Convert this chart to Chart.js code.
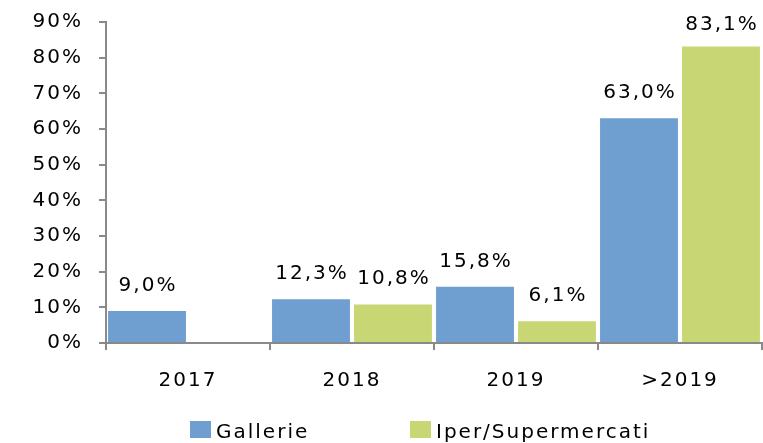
<!DOCTYPE html>
<html>
<head>
<meta charset="utf-8">
<script src="https://cdn.jsdelivr.net/npm/chart.js@4/dist/chart.umd.min.js"></script>
<style>
  html, body { margin: 0; padding: 0; background: #fff; }
  #wrap { width: 763px; height: 443px; }
</style>
</head>
<body>
<div id="wrap"><canvas id="chart"></canvas></div>
<script>
const categories = ['2017', '2018', '2019', '>2019'];
const gallerie = [9.0, 12.3, 15.8, 63.0];
const iper = [null, 10.8, 6.1, 83.1];
const yTicks = [0, 10, 20, 30, 40, 50, 60, 70, 80, 90];

const FONT = '"DejaVu Sans", sans-serif';
const SIZE = 20;
const fmt = v => v.toFixed(1).replace('.', ',') + '%';

// the original text is wide, so open the letters up a little
const spacing = {
    id: 'spacing',
    beforeUpdate(chart) { chart.ctx.letterSpacing = '2px'; },
    beforeDraw(chart) { chart.ctx.letterSpacing = '2px'; }
};

// value above each bar
const barLabels = {
    id: 'barLabels',
    afterDatasetsDraw(chart) {
        const ctx = chart.ctx;
        ctx.save();
        ctx.font = SIZE + 'px ' + FONT;
        ctx.fillStyle = '#000';
        ctx.textAlign = 'center';
        ctx.textBaseline = 'alphabetic';
        chart.data.datasets.forEach((ds, i) => {
            chart.getDatasetMeta(i).data.forEach((bar, j) => {
                const v = ds.data[j];
                if (v == null) return;
                ctx.fillText(fmt(v), bar.x + 1, Math.max(bar.y - 20, 30));
            });
        });
        ctx.restore();
    }
};

// legend at the bottom, items spread like the original
const bottomLegend = {
    id: 'bottomLegend',
    afterDraw(chart) {
        const ctx = chart.ctx;
        const xs = [190, 410];
        ctx.save();
        ctx.font = SIZE + 'px ' + FONT;
        ctx.textBaseline = 'alphabetic';
        ctx.textAlign = 'left';
        chart.data.datasets.forEach((ds, i) => {
            ctx.fillStyle = ds.backgroundColor;
            ctx.fillRect(xs[i], 421, 21, 17);
            ctx.fillStyle = '#000';
            ctx.fillText(ds.label, xs[i] + 26, 438);
        });
        ctx.restore();
    }
};

new Chart(document.getElementById('chart').getContext('2d'), {
    type: 'bar',
    data: {
        labels: categories,
        datasets: [{
            label: 'Gallerie',
            data: gallerie,
            backgroundColor: '#6f9fd1',
            categoryPercentage: 1,
            barPercentage: 0.95
        }, {
            label: 'Iper/Supermercati',
            data: iper,
            backgroundColor: '#c8d774',
            categoryPercentage: 1,
            barPercentage: 0.95
        }]
    },
    options: {
        responsive: true,
        maintainAspectRatio: false,
        animation: false,
        layout: { padding: { top: 22, right: 1, left: 0, bottom: 31 } },
        scales: {
            y: {
                min: 0,
                max: 90,
                afterBuildTicks: axis => { axis.ticks = yTicks.map(v => ({ value: v })); },
                afterFit: scale => {
                    scale.width = 106;
                    scale.paddingTop = 0;
                    scale.paddingBottom = 0;
                },
                ticks: {
                    callback: v => v + '%',
                    color: '#000',
                    font: { family: FONT, size: SIZE },
                    padding: 16
                },
                grid: { drawOnChartArea: false, drawTicks: true, tickLength: 7, color: '#898989', lineWidth: 2 },
                border: { color: '#898989', width: 2 }
            },
            x: {
                ticks: {
                    color: '#000',
                    font: { family: FONT, size: SIZE },
                    padding: 19
                },
                grid: { offset: true, drawOnChartArea: false, drawTicks: true, tickLength: 7, color: '#898989', lineWidth: 2 },
                border: { color: '#898989', width: 2 }
            }
        },
        plugins: {
            legend: { display: false },
            tooltip: { enabled: false }
        }
    },
    plugins: [spacing, barLabels, bottomLegend]
});
</script>
</body>
</html>
